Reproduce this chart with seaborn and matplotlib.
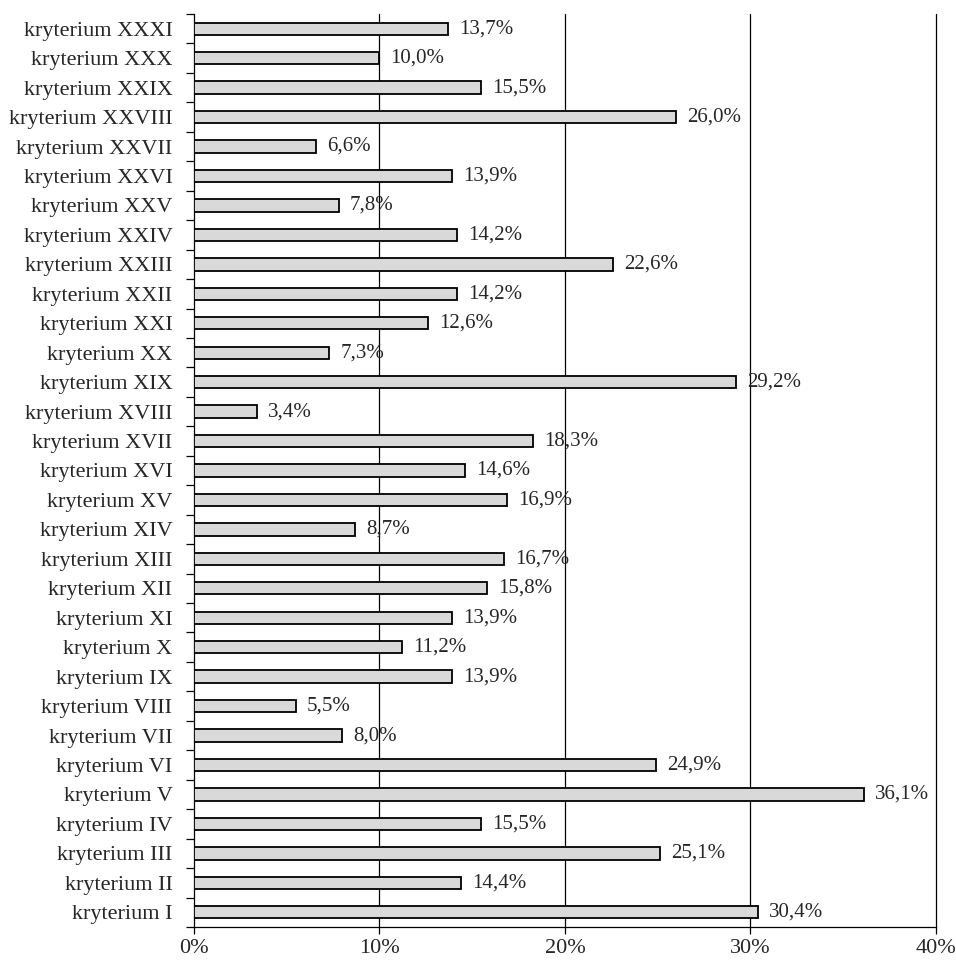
import matplotlib
matplotlib.use("Agg")
import matplotlib.pyplot as plt
import seaborn as sns
import pandas as pd
import numpy as np
from matplotlib.ticker import FixedLocator, FuncFormatter

# Criteria listed top to bottom, with their shares in percent
criteria = [
    "kryterium XXXI", "kryterium XXX", "kryterium XXIX", "kryterium XXVIII",
    "kryterium XXVII", "kryterium XXVI", "kryterium XXV", "kryterium XXIV",
    "kryterium XXIII", "kryterium XXII", "kryterium XXI", "kryterium XX",
    "kryterium XIX", "kryterium XVIII", "kryterium XVII", "kryterium XVI",
    "kryterium XV", "kryterium XIV", "kryterium XIII", "kryterium XII",
    "kryterium XI", "kryterium X", "kryterium IX", "kryterium VIII",
    "kryterium VII", "kryterium VI", "kryterium V", "kryterium IV",
    "kryterium III", "kryterium II", "kryterium I",
]
shares = [
    13.7, 10.0, 15.5, 26.0, 6.6, 13.9, 7.8, 14.2, 22.6, 14.2, 12.6, 7.3,
    29.2, 3.4, 18.3, 14.6, 16.9, 8.7, 16.7, 15.8, 13.9, 11.2, 13.9, 5.5,
    8.0, 24.9, 36.1, 15.5, 25.1, 14.4, 30.4,
]
x_ticks = [0, 10, 20, 30, 40]

df = pd.DataFrame({"kryterium": criteria, "udzial": shares})

sns.set_style("white")
plt.rcParams["font.family"] = ["Liberation Serif", "DejaVu Serif"]

fig = plt.figure(figsize=(9.56, 9.6), dpi=100)
ax = fig.add_axes([0.2029, 0.0344, 0.979 - 0.2029, 0.9854 - 0.0344])

sns.barplot(data=df, x="udzial", y="kryterium", orient="h", ax=ax,
            color="#d9d9d9", edgecolor="black", linewidth=1.3,
            width=0.42, saturation=1, zorder=3)

n = len(criteria)
ax.set_xlim(0, 40)
ax.set_ylim(n - 0.5, -0.5)

# vertical gridlines at major x ticks
for t in x_ticks[1:]:
    ax.axvline(t, color="black", linewidth=0.9, zorder=1, clip_on=False)

ax.xaxis.set_major_locator(FixedLocator(x_ticks))
ax.xaxis.set_major_formatter(FuncFormatter(lambda v, p: f"{int(v)}%"))
ax.tick_params(axis="x", direction="out", length=5, width=0.9,
               labelsize=16, pad=4, bottom=True, color="black")

# category ticks sit between bars
ax.yaxis.set_minor_locator(FixedLocator(np.arange(-0.5, n, 1.0)))
ax.tick_params(axis="y", which="minor", direction="out", length=6,
               width=0.9, left=True, color="black")
ax.tick_params(axis="y", which="major", length=0, labelsize=16, pad=15.5)

for side in ["top", "right"]:
    ax.spines[side].set_visible(False)
for side in ["left", "bottom"]:
    ax.spines[side].set_color("black")
    ax.spines[side].set_linewidth(0.9)

ax.set_xlabel("")
ax.set_ylabel("")

# value labels at bar ends
for i, v in enumerate(shares):
    ax.text(v + 0.6, i, f"{v:.1f}%".replace(".", ","), va="center",
            ha="left", fontsize=15, zorder=4)

fig.savefig("out.png", dpi=100)
